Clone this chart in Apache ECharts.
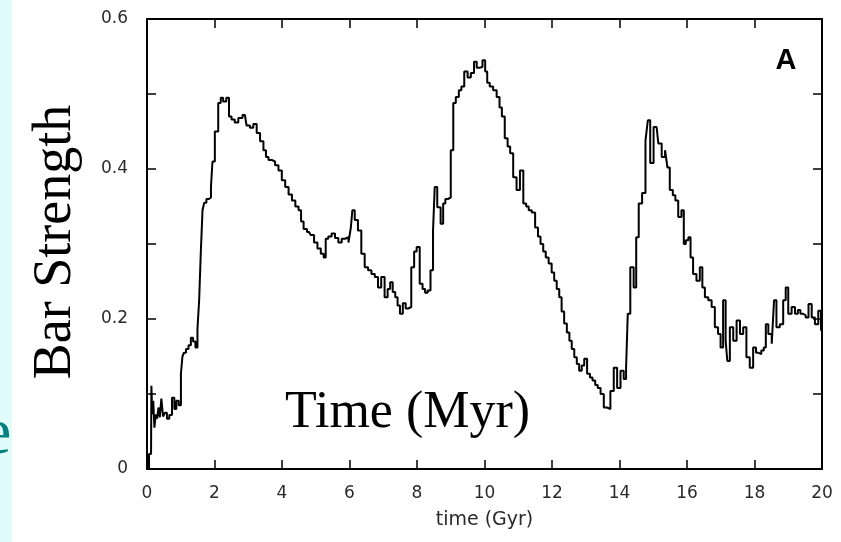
<!DOCTYPE html>
<html>
<head>
<meta charset="utf-8">
<script src="https://cdn.jsdelivr.net/npm/echarts@6/dist/echarts.min.js"></script>
<style>
  html, body { margin: 0; padding: 0; background: #ffffff; }
  #chart { width: 841px; height: 542px; }
</style>
</head>
<body>
<div id="chart"></div>
<script>
// Bar strength of the simulated galaxy versus time
const timeGyr = [
  0, 0.12, 0.14, 0.17, 0.2, 0.24, 0.28, 0.32, 0.36, 0.4, 0.45, 0.5, 0.56, 0.62, 0.7, 0.78, 0.84, 0.9, 0.98,
  1.03, 1.07, 1.12, 1.19, 1.27, 1.33, 1.4, 1.47, 1.52, 1.57, 1.62, 1.67, 1.72, 1.8, 1.87, 1.92, 1.96,
  2.06, 2.16, 2.21, 2.3, 2.4, 2.46, 2.55, 2.65, 2.76, 2.9, 3.0, 3.1, 3.2, 3.3, 3.4, 3.5, 3.55, 3.65, 3.74,
  3.85, 3.94, 4.05, 4.14, 4.25, 4.34, 4.45, 4.53, 4.6, 4.68, 4.8, 4.9, 5.0, 5.1, 5.2, 5.27, 5.32, 5.42,
  5.52, 5.62, 5.72, 5.82, 5.92, 6.02, 6.06, 6.11, 6.2, 6.3, 6.4, 6.5, 6.6, 6.7, 6.8, 6.89, 6.99, 7.09,
  7.17, 7.24, 7.32, 7.39, 7.46, 7.53, 7.63, 7.7, 7.78, 7.88, 7.95, 8.03, 8.13, 8.2, 8.28, 8.35, 8.45,
  8.5, 8.55, 8.65, 8.75, 8.8, 8.88, 8.95, 9.05, 9.1, 9.2, 9.28, 9.35, 9.45, 9.55, 9.64, 9.74, 9.8, 9.89,
  9.99, 10.05, 10.11, 10.2, 10.31, 10.41, 10.48, 10.55, 10.65, 10.72, 10.8, 10.9, 11.0, 11.1, 11.2,
  11.27, 11.35, 11.45, 11.55, 11.62, 11.7, 11.78, 11.85, 11.95, 12.03, 12.1, 12.18, 12.25, 12.32, 12.4,
  12.48, 12.55, 12.62, 12.7, 12.77, 12.84, 12.92, 12.99, 13.09, 13.16, 13.24, 13.32, 13.39, 13.49, 13.58,
  13.68, 13.78, 13.88, 13.98, 14.08, 14.17, 14.22, 14.27, 14.37, 14.47, 14.52, 14.62, 14.72, 14.82,
  14.86, 14.96, 15.06, 15.1, 15.2, 15.3, 15.4, 15.44, 15.54, 15.62, 15.69, 15.79, 15.88, 15.93, 16.0,
  16.08, 16.13, 16.23, 16.33, 16.43, 16.48, 16.58, 16.68, 16.78, 16.87, 16.97, 17.02, 17.12, 17.17,
  17.22, 17.32, 17.42, 17.52, 17.62, 17.71, 17.81, 17.91, 18.01, 18.08, 18.16, 18.24, 18.31, 18.36,
  18.46, 18.56, 18.6, 18.7, 18.8, 18.9, 18.95, 19.05, 19.15, 19.25, 19.32, 19.4, 19.48, 19.55, 19.65,
  19.74, 19.84, 19.94, 20.0
];

const barStrength = [
  0.0, 0.02, 0.111, 0.073, 0.091, 0.055, 0.073, 0.067, 0.082, 0.069, 0.094, 0.07, 0.075, 0.067, 0.072, 0.095, 0.08, 0.091, 0.085,
  0.127, 0.15, 0.155, 0.16, 0.165, 0.175, 0.17, 0.162, 0.187, 0.225, 0.29, 0.345, 0.355, 0.36, 0.362, 0.376, 0.41,
  0.45, 0.488, 0.495, 0.49, 0.495, 0.47, 0.466, 0.462, 0.468, 0.472, 0.458, 0.455, 0.46, 0.448, 0.437, 0.425, 0.416, 0.412, 0.41,
  0.405, 0.398, 0.385, 0.376, 0.366, 0.358, 0.35, 0.345, 0.33, 0.32, 0.316, 0.312, 0.302, 0.294, 0.287, 0.282, 0.307, 0.31,
  0.314, 0.308, 0.302, 0.307, 0.309, 0.302, 0.322, 0.345, 0.332, 0.318, 0.287, 0.269, 0.265, 0.26, 0.256, 0.242, 0.256, 0.229,
  0.24, 0.249, 0.236, 0.229, 0.218, 0.207, 0.221, 0.214, 0.216, 0.269, 0.29, 0.296, 0.247, 0.24, 0.235, 0.238, 0.265,
  0.318, 0.376, 0.349, 0.327, 0.354, 0.36, 0.362, 0.425, 0.488, 0.496, 0.505, 0.51, 0.53, 0.522, 0.528, 0.543, 0.535, 0.536,
  0.545, 0.53, 0.515, 0.51, 0.505, 0.496, 0.482, 0.47, 0.441, 0.43, 0.421, 0.389, 0.372, 0.398, 0.354,
  0.35, 0.345, 0.342, 0.322, 0.31, 0.3, 0.29, 0.282, 0.274, 0.262, 0.251, 0.24, 0.229, 0.21, 0.194,
  0.182, 0.171, 0.16, 0.149, 0.14, 0.131, 0.138, 0.147, 0.127, 0.122, 0.118, 0.112, 0.108, 0.1, 0.082,
  0.08, 0.104, 0.135, 0.108, 0.131, 0.12, 0.135, 0.207, 0.269, 0.242, 0.309, 0.354, 0.368, 0.438,
  0.465, 0.408, 0.456, 0.456, 0.434, 0.416, 0.425, 0.402, 0.372, 0.365, 0.358, 0.336, 0.345, 0.3, 0.305,
  0.309, 0.282, 0.26, 0.251, 0.269, 0.242, 0.229, 0.225, 0.216, 0.189, 0.18, 0.162, 0.225, 0.171,
  0.144, 0.189, 0.171, 0.198, 0.18, 0.189, 0.149, 0.135, 0.162, 0.155, 0.153, 0.158, 0.162, 0.193,
  0.18, 0.167, 0.225, 0.189, 0.193, 0.225, 0.242, 0.207, 0.216, 0.207, 0.212, 0.207, 0.205, 0.202, 0.22,
  0.202, 0.193, 0.211, 0.185
];

// Axis ticks and their printed labels
const xTickValues = [0, 2, 4, 6, 8, 10, 12, 14, 16, 18, 20];
const xTickLabels = ['0', '2', '4', '6', '8', '10', '12', '14', '16', '18', '20'];
const yTickValues = [0, 0.2, 0.4, 0.6];
const yTickLabels = ['0', '0.2', '0.4', '0.6'];

const seriesData = timeGyr.map((t, i) => [t, barStrength[i]]);

function labelFor(values, labels) {
  return function (v) {
    for (let i = 0; i < values.length; i++) {
      if (Math.abs(values[i] - v) < 1e-6) return labels[i];
    }
    return '';
  };
}

const axisColor = '#000000';
const labelStyle = {
  color: '#2a2a2a',
  fontFamily: '"DejaVu Sans", Arial, sans-serif',
  fontSize: 17
};

const chart = echarts.init(document.getElementById('chart'), null, { renderer: 'canvas' });

chart.setOption({
  animation: false,
  backgroundColor: '#ffffff',
  grid: { left: 147, right: 19, top: 19, bottom: 73, containLabel: false },
  xAxis: [
    {
      type: 'value', min: 0, max: 20, interval: 2, position: 'bottom',
      axisLine: { show: true, onZero: false, lineStyle: { color: axisColor, width: 2 } },
      axisTick: { show: true, inside: true, length: 9, lineStyle: { color: axisColor, width: 1.5 } },
      axisLabel: Object.assign({ margin: 16, formatter: labelFor(xTickValues, xTickLabels) }, labelStyle),
      splitLine: { show: false },
      name: 'time (Gyr)', nameLocation: 'middle', nameGap: 42,
      nameTextStyle: { color: '#2a2a2a', fontFamily: '"DejaVu Sans", Arial, sans-serif', fontSize: 19 }
    },
    {
      type: 'value', min: 0, max: 20, interval: 2, position: 'top',
      axisLine: { show: true, onZero: false, lineStyle: { color: axisColor, width: 2 } },
      axisTick: { show: true, inside: true, length: 9, lineStyle: { color: axisColor, width: 1.5 } },
      axisLabel: { show: false },
      splitLine: { show: false }
    }
  ],
  yAxis: [
    {
      type: 'value', min: 0, max: 0.6, interval: 0.2, position: 'left',
      axisLine: { show: true, onZero: false, lineStyle: { color: axisColor, width: 2 } },
      axisTick: { show: true, inside: true, length: 9, lineStyle: { color: axisColor, width: 1.5 } },
      minorTick: { show: true, splitNumber: 2, length: 9, lineStyle: { color: axisColor, width: 1.5 } },
      axisLabel: Object.assign({ margin: 19, formatter: labelFor(yTickValues, yTickLabels) }, labelStyle),
      splitLine: { show: false }
    },
    {
      type: 'value', min: 0, max: 0.6, interval: 0.2, position: 'right',
      axisLine: { show: true, onZero: false, lineStyle: { color: axisColor, width: 2 } },
      axisTick: { show: true, inside: true, length: 9, lineStyle: { color: axisColor, width: 1.5 } },
      minorTick: { show: true, splitNumber: 2, length: 9, lineStyle: { color: axisColor, width: 1.5 } },
      axisLabel: { show: false },
      splitLine: { show: false }
    }
  ],
  series: [
    {
      type: 'line',
      data: seriesData,
      xAxisIndex: 0,
      yAxisIndex: 0,
      step: 'middle',
      showSymbol: false,
      symbol: 'none',
      lineStyle: { color: '#000000', width: 2 },
      z: 3
    }
  ],
  graphic: [
    // pale cyan slide margin at the far left
    {
      type: 'rect', left: 0, top: 0, z: -10,
      shape: { x: 0, y: 0, width: 12, height: 542 },
      style: { fill: '#e2fbfb' }
    },
    {
      type: 'text', x: -18, y: 436, z: 10,
      style: {
        text: 'e', fill: '#008080',
        font: '66px "Liberation Serif", "Times New Roman", serif',
        align: 'left', verticalAlign: 'middle'
      }
    },
    {
      type: 'text', x: 56, y: 242, rotation: Math.PI / 2, z: 10,
      style: {
        text: 'Bar Strength', fill: '#000000',
        font: '54px "Liberation Serif", "Times New Roman", serif',
        align: 'center', verticalAlign: 'middle'
      }
    },
    {
      type: 'text', x: 285, y: 413, z: 10,
      style: {
        text: 'Time (Myr)', fill: '#000000',
        font: '52px "Liberation Serif", "Times New Roman", serif',
        align: 'left', verticalAlign: 'middle'
      }
    },
    {
      type: 'text', x: 786, y: 61, z: 10,
      style: {
        text: 'A', fill: '#000000',
        font: 'bold 29px "Liberation Sans", Arial, sans-serif',
        align: 'center', verticalAlign: 'middle'
      }
    }
  ]
});
</script>
</body>
</html>
